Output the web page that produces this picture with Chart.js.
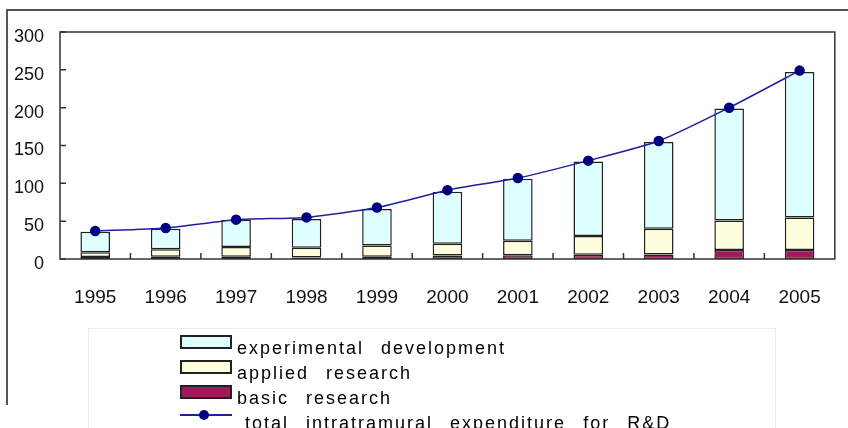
<!DOCTYPE html>
<html>
<head>
<meta charset="utf-8">
<script src="https://cdn.jsdelivr.net/npm/chart.js@4.4.1/dist/chart.umd.min.js"></script>
<style>
    body { margin: 0; background: #fff; }
    #wrap { position: relative; width: 848px; height: 428px; overflow: hidden; }
    #frame { position: absolute; left: 6px; top: 9px; width: 900px; height: 394px;
             border-top: 2px solid #555; border-left: 2px solid #555; }
    #legendBox { position: absolute; left: 88px; top: 328px; width: 686px; height: 120px;
                 border: 1px solid #eee; }
    .lg-row { position: absolute; left: 237px; height: 25px; line-height: 25px;
              font-family: "Liberation Sans", Arial, sans-serif; font-size: 18px;
              letter-spacing: 2px; word-spacing: 10px; color: #000; white-space: nowrap; }
    .lg-box { position: absolute; left: 180px; width: 48px; height: 10px; border: 2px solid #222; }
    .lg-line { position: absolute; left: 180px; width: 52px; height: 0; border-top: 2px solid #1f1f9f; }
    .lg-dot { position: absolute; width: 10px; height: 10px; border-radius: 50%; background: #000080; }
</style>
</head>
<body>
<div id="wrap">
    <div id="frame"></div>
    <div id="legendBox"></div>
    <canvas id="rdChart" width="848" height="428"></canvas>
    <div id="legend"></div>
</div>
<script>
// 年份（x轴标签）
const years = ['1995', '1996', '1997', '1998', '1999', '2000', '2001', '2002', '2003', '2004', '2005'];

// 各部分数值
const basicResearch = [2.5, 3, 3, 2, 3, 4.5, 5, 5.5, 6, 12, 12];
const appliedResearch = [6.5, 10, 13, 13, 15, 15.5, 19, 25, 34, 39, 43];
const experimentalDev = [27, 27, 36, 38, 48, 69, 82, 98.5, 114.5, 148, 192];
const totalExpenditure = [37, 41, 52, 55, 68, 91, 107, 130, 156, 200, 249];

// y轴刻度
const yTicks = [0, 50, 100, 150, 200, 250, 300];

// 图例文字
const legendNames = ['experimental development', 'applied research', 'basic research',
                     'total intratramural expenditure for R&D'];

const colExp = '#dfffff';
const colApplied = '#ffffdd';
const colBasic = '#a3195b';
const colLine = '#1f1f9f';
const colDot = '#000080';

// 绘图区边框 + 朝内的刻度线
const framePlugin = {
    id: 'framePlugin',
    afterDraw(chart) {
        const ctx = chart.ctx;
        const a = chart.chartArea;
        const xs = chart.scales.x;
        const ys = chart.scales.y;
        ctx.save();
        ctx.strokeStyle = '#333';
        ctx.lineWidth = 1.5;
        ctx.strokeRect(a.left, a.top, a.right - a.left, a.bottom - a.top);
        ctx.beginPath();
        // y轴刻度
        ys.ticks.forEach(function (t) {
            const y = ys.getPixelForValue(t.value);
            ctx.moveTo(a.left, y);
            ctx.lineTo(a.left + 6, y);
        });
        // x轴刻度（类别之间）
        for (let i = 0; i < years.length - 1; i++) {
            const x = (xs.getPixelForValue(i) + xs.getPixelForValue(i + 1)) / 2;
            ctx.moveTo(x, a.bottom);
            ctx.lineTo(x, a.bottom - 6);
        }
        ctx.stroke();
        ctx.restore();
    }
};

const ctx = document.getElementById('rdChart').getContext('2d');
const rdChart = new Chart(ctx, {
    type: 'bar',
    data: {
        labels: years,
        datasets: [{
            type: 'line',
            label: legendNames[3],
            data: totalExpenditure,
            borderColor: colLine,
            borderWidth: 1.5,
            pointBackgroundColor: colDot,
            pointBorderColor: colDot,
            pointRadius: 4.5,
            tension: 0.2,
            order: 0
        }, {
            label: legendNames[2],
            data: basicResearch,
            backgroundColor: colBasic,
            borderColor: '#222',
            borderWidth: 1.5,
            borderSkipped: false,
            order: 1
        }, {
            label: legendNames[1],
            data: appliedResearch,
            backgroundColor: colApplied,
            borderColor: '#222',
            borderWidth: 1.5,
            borderSkipped: false,
            order: 1
        }, {
            label: legendNames[0],
            data: experimentalDev,
            backgroundColor: colExp,
            borderColor: '#222',
            borderWidth: 1.5,
            borderSkipped: false,
            order: 1
        }]
    },
    options: {
        responsive: false,
        devicePixelRatio: 1,
        animation: false,
        barPercentage: 0.42,
        categoryPercentage: 1,
        layout: { padding: { top: 32, right: 6, left: 0, bottom: 0 } },
        plugins: {
            legend: { display: false },
            tooltip: { enabled: false }
        },
        scales: {
            x: {
                stacked: true,
                grid: { display: false, drawTicks: false },
                border: { display: false },
                ticks: {
                    padding: 27,
                    color: '#111',
                    font: { family: '"Liberation Sans", Arial, sans-serif', size: 19 }
                },
                afterFit: function (s) { s.height = 169; }
            },
            y: {
                stacked: true,
                min: 0,
                max: 300,
                afterBuildTicks: function (s) { s.ticks = yTicks.map(v => ({ value: v })); },
                grid: { display: false, drawTicks: false },
                border: { display: false },
                ticks: {
                    padding: 16,
                    labelOffset: 5,
                    color: '#111',
                    font: { family: '"Liberation Sans", Arial, sans-serif', size: 18 }
                },
                afterFit: function (s) { s.width = 60; }
            }
        }
    },
    plugins: [framePlugin]
});

// HTML图例（竖排）
const legendEl = document.getElementById('legend');
const swatchFills = [colExp, colApplied, colBasic];
legendNames.forEach(function (name, i) {
    const top = 335 + 25 * i;
    if (i < 3) {
        const box = document.createElement('div');
        box.className = 'lg-box';
        box.style.top = top + 'px';
        box.style.background = swatchFills[i];
        legendEl.appendChild(box);
    } else {
        const line = document.createElement('div');
        line.className = 'lg-line';
        line.style.top = (top + 4) + 'px';
        legendEl.appendChild(line);
        const dot = document.createElement('div');
        dot.className = 'lg-dot';
        dot.style.left = '199px';
        dot.style.top = (top) + 'px';
        legendEl.appendChild(dot);
    }
    const row = document.createElement('div');
    row.className = 'lg-row';
    row.style.top = (top + 1) + 'px';
    if (i === 3) row.style.left = '245px';
    row.textContent = name;
    legendEl.appendChild(row);
});
</script>
</body>
</html>
